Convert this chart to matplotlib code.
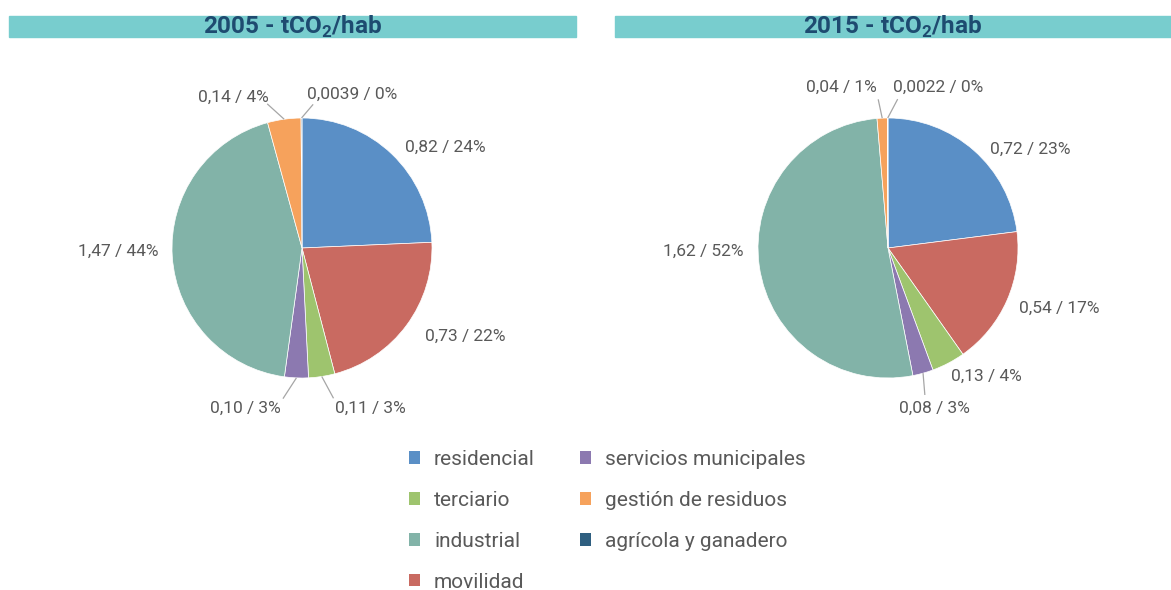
import numpy as np
import matplotlib
matplotlib.use('Agg')
import matplotlib.pyplot as plt
from matplotlib.patches import Rectangle, Patch

plt.rcParams['font.family'] = ['Roboto', 'DejaVu Sans']
plt.rcParams['mathtext.fontset'] = 'custom'
plt.rcParams['mathtext.rm'] = 'Roboto'
plt.rcParams['mathtext.bf'] = 'Roboto:bold'

# ---------------------------------------------------------------- data
sectors = ['residencial', 'movilidad', 'terciario', 'servicios municipales',
           'industrial', 'gestión de residuos', 'agrícola y ganadero']
values_2005 = [0.82, 0.73, 0.11, 0.10, 1.47, 0.14, 0.0039]
values_2015 = [0.72, 0.54, 0.13, 0.08, 1.62, 0.04, 0.0022]
labels_2005 = ['0,82 / 24%', '0,73 / 22%', '0,11 / 3%', '0,10 / 3%',
               '1,47 / 44%', '0,14 / 4%', '0,0039 / 0%']
labels_2015 = ['0,72 / 23%', '0,54 / 17%', '0,13 / 4%', '0,08 / 3%',
               '1,62 / 52%', '0,04 / 1%', '0,0022 / 0%']
legend_order = ['residencial', 'terciario', 'industrial', 'movilidad',
                'servicios municipales', 'gestión de residuos', 'agrícola y ganadero']

colors = {
    'residencial': '#5A8FC6',
    'movilidad': '#C96A61',
    'terciario': '#9EC46E',
    'servicios municipales': '#8C79B0',
    'industrial': '#82B3A8',
    'gestión de residuos': '#F6A25C',
    'agrícola y ganadero': '#2F5F80',
}

# label layout: (radial distance, dx, dy, leader end offset from label or None)
layout_2005 = [(1.10, 0.03, -0.02, None), (1.15, 0.02, 0.00, None),
               (1.20, 0.07, -0.045, (-0.01, 0.075)),
               (1.20, -0.11, -0.035, (0.015, 0.075)),
               (1.11, 0.00, 0.05, None),
               (1.15, -0.10, 0.02, (-0.01, -0.05)),
               (1.15, 0.045, 0.035, (0.045, -0.08))]
layout_2015 = [(1.10, 0.06, -0.065, None), (1.10, 0.00, -0.02, None),
               (1.10, -0.03, -0.015, None),
               (1.20, -0.24, -0.08, (0.20, 0.105)),
               (1.11, -0.01, 0.13, None),
               (1.20, -0.035, 0.035, (0.013, -0.09)),
               (1.20, 0.04, 0.035, (0.037, -0.09))]

W, H = 1171, 590
fig = plt.figure(figsize=(W / 100, H / 100), dpi=100)

text_col = '#595959'


def draw_pie(cx, cy, r, values, labels, layout, title, bar):
    ax = fig.add_axes([(cx - r) / W, (H - cy - r) / H, 2 * r / W, 2 * r / H])
    wedges, _ = ax.pie(values, colors=[colors[s] for s in sectors],
                       startangle=90, counterclock=False, radius=1,
                       wedgeprops=dict(edgecolor='white', linewidth=0.5))
    ax.set_xlim(-1, 1)
    ax.set_ylim(-1, 1)
    for w, lab, (dist, dx, dy, leader) in zip(wedges, labels, layout):
        ang = np.deg2rad((w.theta1 + w.theta2) / 2)
        ux, uy = np.cos(ang), np.sin(ang)
        tx, ty = dist * ux + dx, dist * uy + dy
        ha = 'left' if tx >= 0 else 'right'
        ax.text(tx, ty, lab, ha=ha, va='center', fontsize=12.5, color=text_col,
                clip_on=False)
        if leader is not None:
            ax.plot([ux, tx + leader[0]], [uy, ty + leader[1]], color='#A6A6A6',
                    lw=0.9, clip_on=False, solid_capstyle='butt')
    # title bar
    x0, x1 = bar
    fig.patches.append(Rectangle((x0 / W, 1 - 37 / H), (x1 - x0) / W, 21 / H,
                                 transform=fig.transFigure, color='#78CDCE',
                                 zorder=0))
    fig.text((x0 + x1) / 2 / W, 1 - 27 / H, title, ha='center', va='center',
             fontsize=17.5, fontweight='bold', color='#1E4B70')


draw_pie(302, 248, 130, values_2005, labels_2005, layout_2005,
         r'2005 - tCO$_\mathbf{2}$/hab', (9, 576))
draw_pie(888, 248, 130, values_2015, labels_2015, layout_2015,
         r'2015 - tCO$_\mathbf{2}$/hab', (615, 1171))

handles = [Patch(facecolor=colors[s], edgecolor='none') for s in legend_order]
leg = fig.legend(handles, legend_order, ncol=2, loc='upper left',
                 bbox_to_anchor=(409 / W, 1 - 450 / H), frameon=False,
                 fontsize=15, handlelength=0.53, handleheight=0.53,
                 handletextpad=0.67, labelspacing=1.05, columnspacing=2.15,
                 borderpad=0, borderaxespad=0)
for t in leg.get_texts():
    t.set_color(text_col)

fig.savefig('out.png', dpi=100)
